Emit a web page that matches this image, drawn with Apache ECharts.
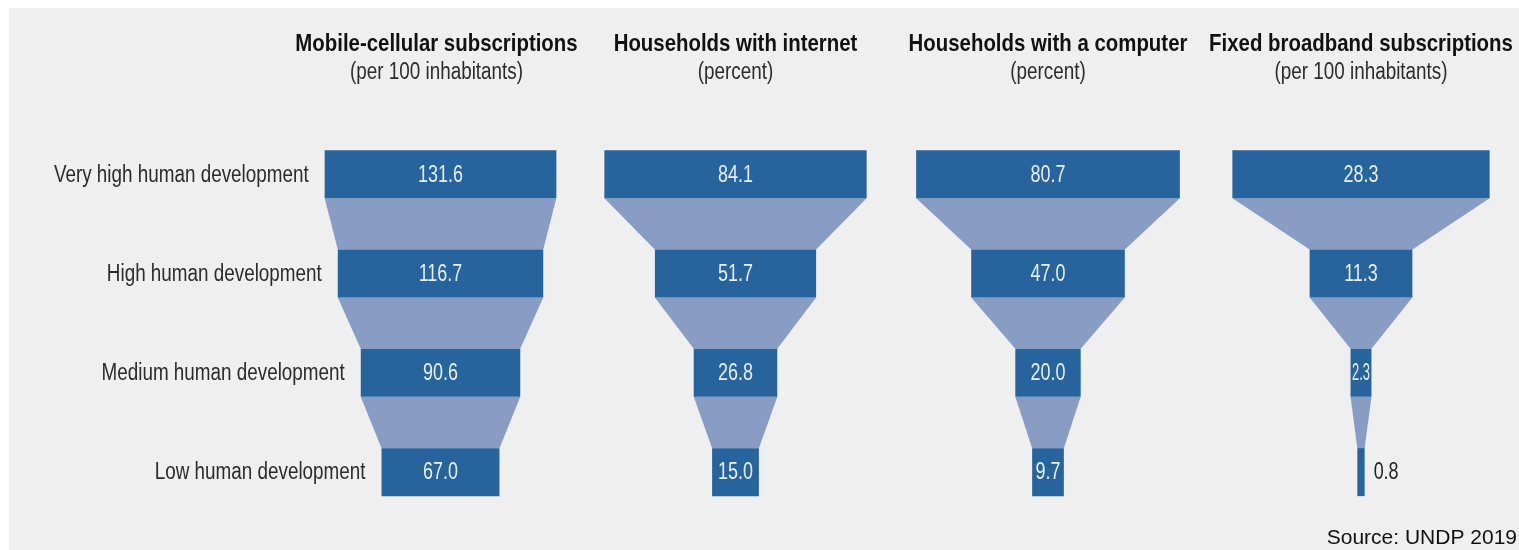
<!DOCTYPE html>
<html>
<head>
<meta charset="utf-8">
<script src="https://cdn.jsdelivr.net/npm/echarts@6/dist/echarts.min.js"></script>
<style>
  html, body { margin: 0; padding: 0; background: #ffffff; }
  #chart { width: 1519px; height: 550px; }
</style>
</head>
<body>
<div id="chart"></div>
<script>
// ---- Data ----
const categories = [
  'Very high human development',
  'High human development',
  'Medium human development',
  'Low human development'
];
const panelTitles = [
  'Mobile-cellular subscriptions',
  'Households with internet',
  'Households with a computer',
  'Fixed broadband subscriptions'
];
const panelUnits = [
  '(per 100 inhabitants)',
  '(percent)',
  '(percent)',
  '(per 100 inhabitants)'
];
const mobileCellular = [131.6, 116.7, 90.6, 67.0];
const householdsInternet = [84.1, 51.7, 26.8, 15.0];
const householdsComputer = [80.7, 47.0, 20.0, 9.7];
const fixedBroadband = [28.3, 11.3, 2.3, 0.8];
const sourceNote = 'Source: UNDP 2019';

// ---- Layout / style ----
const panels = [mobileCellular, householdsInternet, householdsComputer, fixedBroadband];
const panelCenters = [440.5, 735.5, 1048, 1361];
const axisHalfRange = [85.2, 48.1, 45.9, 16.5];
const gridHalfWidth = 150;
const FONT = "'Liberation Sans', Arial, sans-serif";
const NARROW = 0.82;
const VALUE_FONT = '23px ' + FONT;
const VALUE_NARROW = 0.78;
const BAR_COLOR = '#27639c';
const LINK_COLOR = '#889cc4';
const BAR_FRAC = 0.4834;

const measureCtx = document.createElement('canvas').getContext('2d');
function textWidth(text, font) {
  measureCtx.font = font;
  return measureCtx.measureText(text).width;
}

const grids = [], xAxes = [], yAxes = [], series = [];

panels.forEach((vals, p) => {
  grids.push({ left: panelCenters[p] - gridHalfWidth, width: gridHalfWidth * 2, top: 124.5, bottom: 28.2 });
  xAxes.push({ type: 'value', gridIndex: p, min: -axisHalfRange[p], max: axisHalfRange[p], show: false });
  yAxes.push({ type: 'category', gridIndex: p, data: categories, inverse: true, show: false });

  // connectors between consecutive bars
  const linkData = [];
  for (let i = 0; i < vals.length - 1; i++) linkData.push([vals[i], vals[i + 1], i]);
  series.push({
    type: 'custom', xAxisIndex: p, yAxisIndex: p, z: 1,
    encode: { x: 0, y: 2 },
    data: linkData,
    renderItem: function (params, api) {
      const a = api.value(0), b = api.value(1), i = api.value(2);
      const h = api.size([0, 1])[1] * BAR_FRAC;
      const tl = api.coord([-a / 2, i]), tr = api.coord([a / 2, i]);
      const bl = api.coord([-b / 2, i + 1]), br = api.coord([b / 2, i + 1]);
      return {
        type: 'polygon',
        shape: { points: [
          [tl[0], tl[1] + h / 2], [tr[0], tr[1] + h / 2],
          [br[0], br[1] - h / 2], [bl[0], bl[1] - h / 2]
        ] },
        style: { fill: LINK_COLOR }
      };
    }
  });

  // centred bars
  const barData = vals.map((v, i) => [v, i]);
  series.push({
    type: 'custom', xAxisIndex: p, yAxisIndex: p, z: 2,
    encode: { x: 0, y: 1 },
    data: barData,
    renderItem: function (params, api) {
      const v = api.value(0), i = api.value(1);
      const h = api.size([0, 1])[1] * BAR_FRAC;
      const l = api.coord([-v / 2, i]), r = api.coord([v / 2, i]);
      const w = r[0] - l[0];
      const children = [{
        type: 'rect',
        shape: { x: l[0], y: l[1] - h / 2, width: w, height: h },
        style: { fill: BAR_COLOR }
      }];
      const label = v.toFixed(1);
      const inside = w > 12;
      let sx = VALUE_NARROW;
      if (inside) {
        const tw = textWidth(label, VALUE_FONT);
        sx = Math.min(VALUE_NARROW, (w - 3) / tw);
      }
      children.push({
        type: 'text',
        x: inside ? (l[0] + r[0]) / 2 : r[0] + 9,
        y: l[1] + 1,
        scaleX: sx,
        style: {
          text: label,
          x: 0, y: 0,
          align: inside ? 'center' : 'left',
          verticalAlign: 'middle',
          font: VALUE_FONT,
          fill: inside ? '#e8eef6' : '#222222'
        }
      });
      if (p === 0) {
        children.push({
          type: 'text',
          x: l[0] - 16,
          y: l[1] + 1,
          scaleX: NARROW,
          style: {
            text: categories[i],
            x: 0, y: 0,
            align: 'right',
            verticalAlign: 'middle',
            font: '23px ' + FONT,
            fill: '#2b2b2b'
          }
        });
      }
      return { type: 'group', children: children };
    }
  });
});

const chart = echarts.init(document.getElementById('chart'));
chart.setOption({
  backgroundColor: '#ffffff',
  animation: false,
  grid: grids,
  xAxis: xAxes,
  yAxis: yAxes,
  series: series
});

// Background panel, titles and source note
const zr = chart.getZr();
zr.add(new echarts.graphic.Rect({
  z: -10, silent: true,
  shape: { x: 9, y: 8, width: 1519 - 9, height: 550 - 8 },
  style: { fill: '#efefef' }
}));
panels.forEach((vals, p) => {
  const cx = panelCenters[p] - (p === 0 ? 4 : 0);
  zr.add(new echarts.graphic.Text({
    z: 5, x: cx, y: 44, scaleX: 0.85,
    style: { text: panelTitles[p], x: 0, y: 0, align: 'center', verticalAlign: 'middle',
             font: 'bold 24px ' + FONT, fill: '#111111' }
  }));
  zr.add(new echarts.graphic.Text({
    z: 5, x: cx, y: 73, scaleX: NARROW,
    style: { text: panelUnits[p], x: 0, y: 0, align: 'center', verticalAlign: 'middle',
             font: '23px ' + FONT, fill: '#2b2b2b' }
  }));
});
zr.add(new echarts.graphic.Text({
  z: 5,
  style: { text: sourceNote, x: 1517, y: 538, align: 'right', verticalAlign: 'middle',
           font: "21px 'Liberation Sans', Arial, sans-serif", fill: '#111111' }
}));
</script>
</body>
</html>
